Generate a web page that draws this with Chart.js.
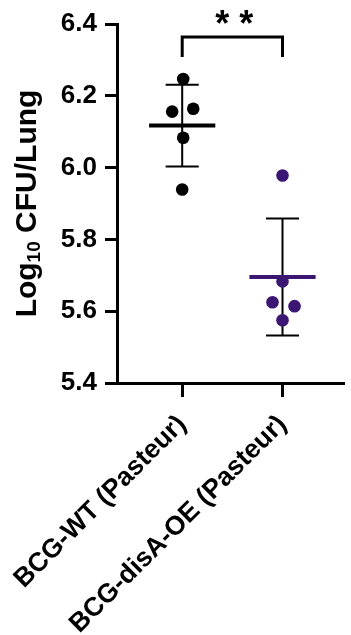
<!DOCTYPE html>
<html>
<head>
<meta charset="utf-8">
<script src="https://cdn.jsdelivr.net/npm/chart.js@4.4.1/dist/chart.umd.min.js"></script>
<style>
  html, body { margin: 0; padding: 0; background: #fff; }
  #wrap { width: 351px; height: 635px; }
</style>
</head>
<body>
<div id="wrap"><canvas id="chart"></canvas></div>
<script>
const groups = ['BCG-WT (Pasteur)', 'BCG-disA-OE (Pasteur)'];
const groupColors = ['#000000', '#3b1673'];
const wtValues = [6.247, 6.156, 6.164, 6.083, 5.939];
const wtJitter = [0.01, -0.10, 0.11, 0.01, 0];
const oeValues = [5.978, 5.683, 5.625, 5.614, 5.575];
const oeJitter = [0, 0, -0.10, 0.12, 0];
const means = [6.117, 5.695];
const sds = [0.114, 0.163];
const yTicks = [5.4, 5.6, 5.8, 6.0, 6.2, 6.4];
const significance = '* *';

const FONT = '"Liberation Sans", Arial, sans-serif';

function points(values, jitter, group) {
    return values.map((v, i) => ({ x: group + jitter[i], y: v }));
}

const summaryPlugin = {
    id: 'summary',
    beforeDatasetsDraw(chart) {
        const ctx = chart.ctx;
        const x = chart.scales.x, y = chart.scales.y;
        ctx.save();
        ctx.strokeStyle = '#000';
        ctx.lineWidth = 2;
        means.forEach((m, i) => {
            const cx = x.getPixelForValue(i);
            const capL = x.getPixelForValue(i - 0.165);
            const capR = x.getPixelForValue(i + 0.165);
            const top = y.getPixelForValue(m + sds[i]);
            const bot = y.getPixelForValue(m - sds[i]);
            ctx.beginPath();
            ctx.moveTo(cx, top); ctx.lineTo(cx, bot);
            ctx.moveTo(capL, top); ctx.lineTo(capR, top);
            ctx.moveTo(capL, bot); ctx.lineTo(capR, bot);
            ctx.stroke();
        });
        ctx.restore();
    },
    afterDatasetsDraw(chart) {
        const ctx = chart.ctx;
        const x = chart.scales.x, y = chart.scales.y;
        ctx.save();
        ctx.lineWidth = 4;
        means.forEach((m, i) => {
            const py = y.getPixelForValue(m);
            ctx.strokeStyle = groupColors[i];
            ctx.beginPath();
            ctx.moveTo(x.getPixelForValue(i - 0.33), py);
            ctx.lineTo(x.getPixelForValue(i + 0.33), py);
            ctx.stroke();
        });
        ctx.restore();
    },
    afterDraw(chart) {
        const ctx = chart.ctx;
        const x = chart.scales.x, y = chart.scales.y;
        const x0 = x.getPixelForValue(0), x1 = x.getPixelForValue(1);
        const top = y.getPixelForValue(6.364), leg = y.getPixelForValue(6.308);
        ctx.save();
        ctx.strokeStyle = '#000';
        ctx.lineWidth = 3;
        ctx.beginPath();
        ctx.moveTo(x0, leg); ctx.lineTo(x0, top); ctx.lineTo(x1, top); ctx.lineTo(x1, leg);
        ctx.stroke();
        ctx.fillStyle = '#000';
        ctx.font = 'bold 36px ' + FONT;
        ctx.textAlign = 'center';
        ctx.textBaseline = 'alphabetic';
        ctx.fillText(significance, (x0 + x1) / 2 + 2, y.getPixelForValue(6.4) + 12);

        // y axis title with subscript
        const cy = (chart.chartArea.top + chart.chartArea.bottom) / 2;
        const big = 'bold 30px ' + FONT, small = 'bold 19px ' + FONT;
        const p1 = 'Log', p2 = '10', p3 = ' CFU/Lung';
        ctx.font = big; const w1 = ctx.measureText(p1).width, w3 = ctx.measureText(p3).width;
        ctx.font = small; const w2 = ctx.measureText(p2).width;
        const total = w1 + w2 + w3;
        ctx.translate(36, cy);
        ctx.rotate(-Math.PI / 2);
        ctx.textAlign = 'left';
        let sx = -total / 2;
        ctx.font = big; ctx.fillText(p1, sx, 0); sx += w1;
        ctx.font = small; ctx.fillText(p2, sx, 4); sx += w2;
        ctx.font = big; ctx.fillText(p3, sx, 0);
        ctx.restore();
    }
};

new Chart(document.getElementById('chart'), {
    type: 'scatter',
    data: {
        datasets: [
            { data: points(wtValues, wtJitter, 0), backgroundColor: groupColors[0] },
            { data: points(oeValues, oeJitter, 1), backgroundColor: groupColors[1] }
        ]
    },
    options: {
        responsive: true,
        maintainAspectRatio: false,
        animation: false,
        layout: { padding: { top: 24, left: 0, right: 0, bottom: 0 } },
        elements: { point: { radius: 6.3, borderWidth: 0, hoverRadius: 6.3 } },
        plugins: { legend: { display: false }, tooltip: { enabled: false } },
        scales: {
            x: {
                type: 'linear',
                min: -0.65,
                max: 1.62,
                afterBuildTicks: s => { s.ticks = groups.map((g, i) => ({ value: i })); },
                afterFit: s => { s.height = 252; s.paddingLeft = 0; s.paddingRight = 0; },
                border: { color: '#000', width: 3 },
                grid: { drawOnChartArea: false, tickLength: 14, tickWidth: 3, tickColor: '#000' },
                ticks: {
                    autoSkip: false,
                    minRotation: 45,
                    maxRotation: 45,
                    padding: 12,
                    color: '#000',
                    font: { family: FONT, size: 26.5, weight: 'bold' },
                    callback: v => groups[v]
                }
            },
            y: {
                min: 5.4,
                max: 6.4,
                afterBuildTicks: s => { s.ticks = yTicks.map(v => ({ value: v })); },
                afterFit: s => { s.width = 117; s.paddingTop = 0; s.paddingBottom = 0; },
                border: { color: '#000', width: 3 },
                grid: { drawOnChartArea: false, tickLength: 12, tickWidth: 3, tickColor: '#000' },
                ticks: {
                    padding: 8,
                    color: '#000',
                    font: { family: FONT, size: 26, weight: 'bold' },
                    callback: v => v.toFixed(1)
                }
            }
        }
    },
    plugins: [summaryPlugin]
});
</script>
</body>
</html>
